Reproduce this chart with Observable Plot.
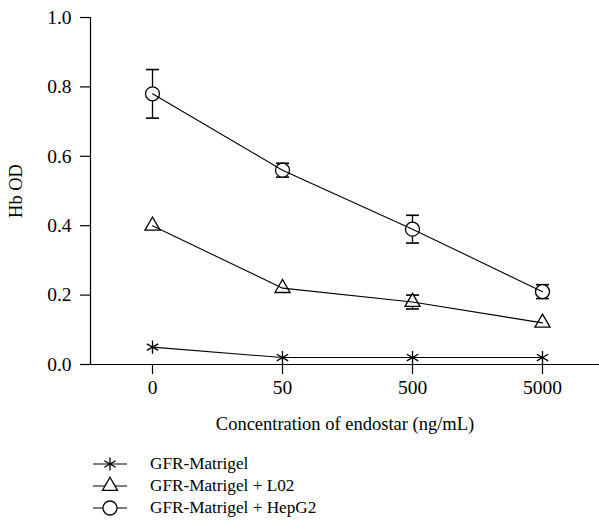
<!DOCTYPE html>
<html>
<head>
<meta charset="utf-8">
<script src="https://cdn.jsdelivr.net/npm/d3@7"></script>
<script src="https://cdn.jsdelivr.net/npm/@observablehq/plot@0.6"></script>
<style>
  html, body { margin: 0; padding: 0; background: #fff; }
  body { width: 599px; font-family: "Liberation Serif", serif; color: #000; }
  #chart svg, #chart svg text { font-family: "Liberation Serif", serif !important; }
  #legend { margin-left: 93px; margin-top: 13px; }
  .row { display: flex; align-items: center; height: 22px; font-size: 17.2px; }
  .row svg { margin-right: 23px; }
</style>
</head>
<body>
<div id="chart"></div>
<div id="legend"></div>
<script>
const concentrations = ["0", "50", "500", "5000"];
const seriesNames = ["GFR-Matrigel", "GFR-Matrigel + L02", "GFR-Matrigel + HepG2"];
const seriesSymbols = ["asterisk", "triangle", "circle"];
const matrigel = [0.05, 0.02, 0.02, 0.02];
const matrigelErr = [0, 0, 0, 0];
const l02 = [0.40, 0.22, 0.18, 0.12];
const l02Err = [0, 0, 0.02, 0];
const hepg2 = [0.78, 0.56, 0.39, 0.21];
const hepg2Err = [0.07, 0.02, 0.04, 0.02];
const yTicks = [0, 0.2, 0.4, 0.6, 0.8, 1.0];

const values = [matrigel, l02, hepg2];
const errs = [matrigelErr, l02Err, hepg2Err];
const rows = [];
values.forEach((vals, s) => vals.forEach((v, i) => rows.push({
  series: seriesNames[s], symbol: seriesSymbols[s], conc: concentrations[i], v, e: errs[s][i]
})));
const errRows = rows.filter(d => d.e > 0);
const capSymbol = {draw(ctx, size) { const w = Math.sqrt(size / Math.PI); ctx.moveTo(-w, 0); ctx.lineTo(w, 0); }};
const symR = {asterisk: 6.2, triangle: 5.6, circle: 7};

const plot = Plot.plot({
  width: 599,
  height: 440,
  marginLeft: 90,
  marginRight: 0,
  marginTop: 17,
  marginBottom: 76,
  style: {fontFamily: "'Liberation Serif', serif", fontSize: "18.5px", color: "#000", background: "#fff"},
  x: {type: "point", domain: concentrations, range: [152, 542], padding: 0},
  y: {domain: [0, 1]},
  symbol: {domain: seriesSymbols, range: seriesSymbols},
  marks: [
    Plot.axisY({ticks: yTicks, tickFormat: d => d.toFixed(1), tickSize: 10, tickPadding: 9, label: "Hb OD", labelAnchor: "center", labelOffset: 82, labelArrow: "none", strokeWidth: 1.2}),
    Plot.axisX({tickSize: 10, tickPadding: 6, label: "Concentration of endostar (ng/mL)", labelAnchor: "center", labelOffset: 65, labelArrow: "none", strokeWidth: 1.2}),
    Plot.frame({anchor: "left", strokeWidth: 1.2}),
    Plot.frame({anchor: "bottom", strokeWidth: 1.2}),
    Plot.ruleX(errRows, {x: "conc", y1: d => d.v - d.e, y2: d => d.v + d.e, stroke: "black", strokeWidth: 1.3}),
    Plot.dot(errRows, {x: "conc", y: d => d.v - d.e, symbol: () => capSymbol, r: 6.5, stroke: "black", strokeWidth: 1.6}),
    Plot.dot(errRows, {x: "conc", y: d => d.v + d.e, symbol: () => capSymbol, r: 6.5, stroke: "black", strokeWidth: 1.6}),
    ...seriesSymbols.map(sym => Plot.dot(rows.filter(d => d.symbol === sym), {x: "conc", y: "v", symbol: sym, r: symR[sym], stroke: "black", fill: sym === "asterisk" ? "none" : "white", strokeWidth: 1.3})),
    Plot.line(rows, {x: "conc", y: "v", z: "series", stroke: "black", strokeWidth: 1.1})
  ]
});
d3.select(plot).selectAll('g[aria-label$="tick label"]').style("font-size", "19.5px");
document.getElementById("chart").append(plot);

// legend
const legend = d3.select("#legend");
const symMap = {asterisk: d3.symbolAsterisk, triangle: d3.symbolTriangle, circle: d3.symbolCircle};
seriesNames.forEach((name, s) => {
  const row = legend.append("div").attr("class", "row");
  const svg = row.append("svg").attr("width", 34).attr("height", 22);
  svg.append("line").attr("x1", 0).attr("x2", 34).attr("y1", 11).attr("y2", 11).attr("stroke", "black").attr("stroke-width", 1.2);
  const sym = seriesSymbols[s];
  const r = symR[sym];
  svg.append("path").attr("transform", "translate(17,11)")
    .attr("d", d3.symbol().type(symMap[sym]).size(r * r * Math.PI)())
    .attr("fill", sym === "asterisk" ? "none" : "white")
    .attr("stroke", "black").attr("stroke-width", 1.3);
  row.append("span").text(name);
});
</script>
</body>
</html>
